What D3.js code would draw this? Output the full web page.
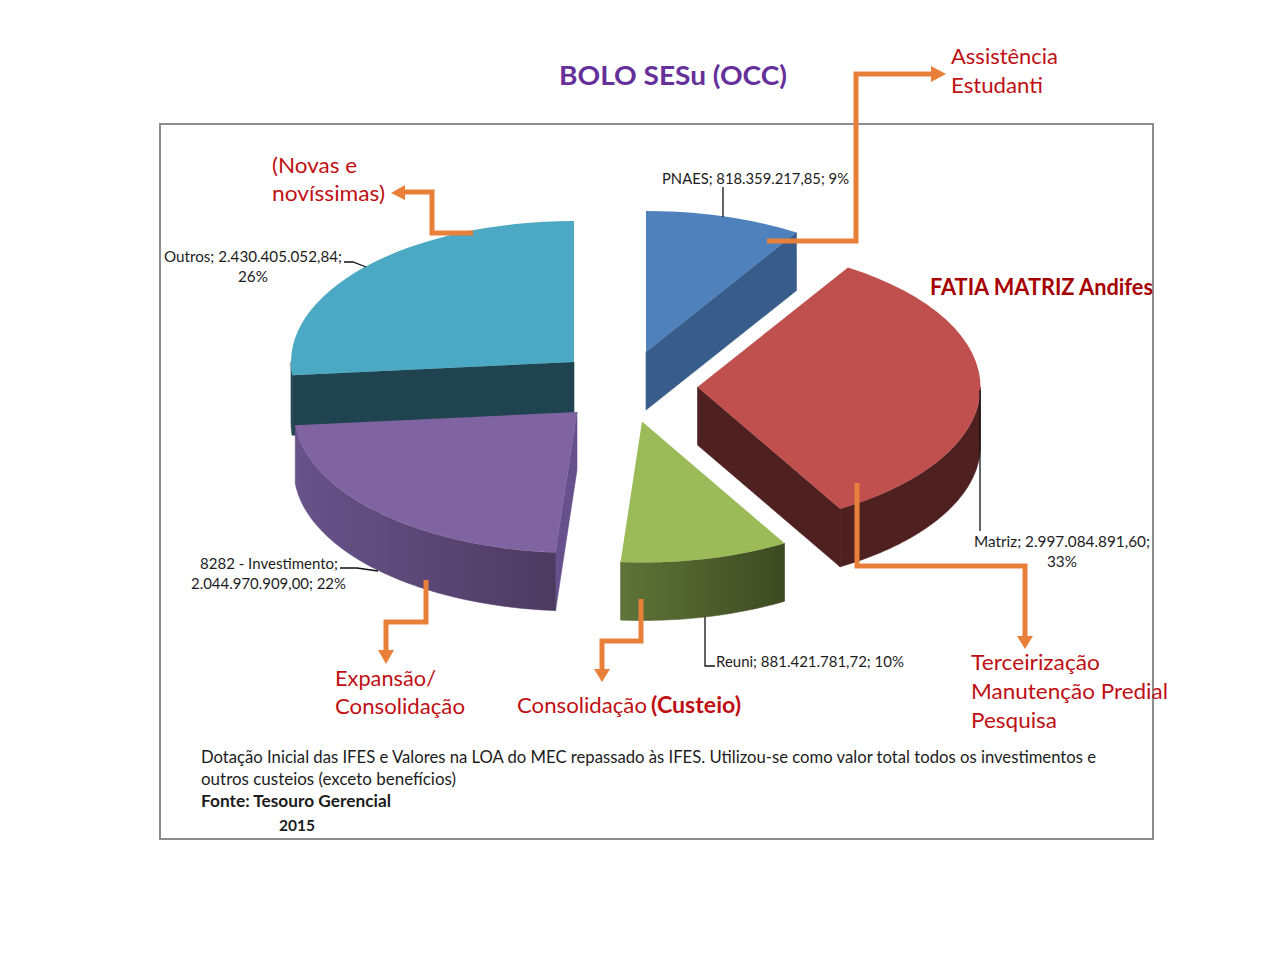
<!DOCTYPE html>
<html lang="pt">
<head>
<meta charset="utf-8">
<title>BOLO SESu (OCC)</title>
<script src="https://cdn.jsdelivr.net/npm/d3@7"></script>
<style>
html,body{margin:0;padding:0;background:#fff}
svg{display:block}
text{font-family:Lato,"Open Sans",sans-serif}
</style>
</head>
<body>
<svg id="chart" width="1280" height="960"></svg>
<script>
// ---------- data ----------
const categories = ["PNAES", "Matriz", "Reuni", "8282 - Investimento", "Outros"];
const seriesValues = [818359217.85, 2997084891.60, 881421781.72, 2044970909.00, 2430405052.84];

// ---------- style of each slice ----------
const topColors  = ["#4F81BD", "#BF504D", "#9BBB59", "#8064A2", "#4BA9C4"];
const wallStart  = ["#385D8A", "#4F2020", "#5F7438", "#68538A", "#1F444F"];
const wallEnd    = ["#385D8A", "#4F2020", "#3D4A21", "#4D3A60", "#1F444F"];
const faceColors = ["#385D8A", "#4F2020", null, "#67518C", "#1F444F"];
const faceEdge   = ["end", "end", null, "start", "start"];
// exploded apex of each slice, and extrusion depth
const apexX = [646, 697.5, 642, 577, 574];
const apexY = [352, 387, 421.5, 412, 362];
const depths = [58, 58, 58, 58, 60];
const rx = 283, ry = 141;

// ---------- annotations ----------
const leaderLines = [
  [[723,187],[723,217]],
  [[344,262],[353,262],[366,267]],
  [[705,617],[705,666],[715,666]],
  [[980,390],[980,531]],
  [[340,568],[357,568],[378,571]]
];
const arrowLines = [
  [[767,241],[856,241],[856,74],[932,74]],
  [[473,233],[432,233],[432,192],[405,192]],
  [[857,483],[857,566],[1025,566],[1025,637]],
  [[426,580],[426,622],[386,622],[386,650]],
  [[641,599],[641,641],[602,641],[602,670]]
];
const arrowHeads = [
  [[931,66],[946,74],[931,82]],
  [[405,185],[391,193],[405,200]],
  [[1017,636],[1025,649],[1033,636]],
  [[378,650],[386,664],[394,650]],
  [[594,669],[602,682],[610,669]]
];
const RED = "#C00F14", DARKRED = "#A60000", INK = "#1c1c1c", PURPLE = "#66309A";
// text, x, baseline, size, weight, colour, width in px
const labels = [
  ["BOLO SESu (OCC)",559,85,27,700,PURPLE,228],
  ["Assistência",951,64,22,400,RED,107],
  ["Estudanti",951,93,22,400,RED,92],
  ["(Novas e",272,173,22,400,RED,85],
  ["novíssimas)",272,201,22,400,RED,113],
  ["FATIA MATRIZ Andifes",930,295,22,700,DARKRED,223],
  ["PNAES; 818.359.217,85; 9%",662,184,15,400,INK,187],
  ["Outros; 2.430.405.052,84;",164,262,15,400,INK,178],
  ["26%",238,282,15,400,INK,30],
  ["Matriz; 2.997.084.891,60;",974,547,15,400,INK,176],
  ["33%",1047,567,15,400,INK,30],
  ["Reuni; 881.421.781,72; 10%",716,667,15,400,INK,188],
  ["8282 - Investimento;",200,569,15,400,INK,138],
  ["2.044.970.909,00; 22%",191,589,15,400,INK,155],
  ["Expansão/",335,686,22,400,RED,101],
  ["Consolidação",335,714,22,400,RED,130],
  ["Consolidação",517,713,22,400,RED,130],
  ["(Custeio)",651,713,22,700,RED,90],
  ["Terceirização",971,670,22,400,RED,129],
  ["Manutenção Predial",971,699,22,400,RED,197],
  ["Pesquisa",971,728,22,400,RED,86],
  ["Dotação Inicial das IFES e Valores na LOA do MEC repassado às IFES. Utilizou-se como valor total todos os investimentos e",201,763,17,400,INK,895],
  ["outros custeios (exceto benefícios)",201,785,17,400,INK,255],
  ["Fonte: Tesouro Gerencial",201,807,17,700,INK,190],
  ["2015",279,831,16,700,INK,36]
];

// ---------- drawing ----------
const svg = d3.select("#chart");
const defs = svg.append("defs");
const pie = d3.pie().sort(null).startAngle(0).endAngle(2 * Math.PI);
const slices = pie(seriesValues);
const arc = d3.arc().innerRadius(0).outerRadius(rx);
const onRim = (a, i, dy = 0) => [
  apexX[i] + rx * Math.sin(a),
  apexY[i] - ry * Math.cos(a) + dy
];
const line = d3.line();
const poly = d3.line().curve(d3.curveLinearClosed);

svg.append("rect")
  .attr("x", 160).attr("y", 124).attr("width", 993).attr("height", 715)
  .attr("fill", "#fff").attr("stroke", "#8c8c8c").attr("stroke-width", 2);

// painter's order: back-left first
const order = [4, 3, 0, 1, 2];
const g = svg.append("g");
order.forEach(i => {
  const s = slices[i], d = depths[i];
  // flat cut face
  if (faceEdge[i]) {
    const a = faceEdge[i] === "end" ? s.endAngle : s.startAngle;
    g.append("path")
      .attr("d", poly([[apexX[i], apexY[i]], [apexX[i], apexY[i] + d], onRim(a, i, d), onRim(a, i)]))
      .attr("fill", faceColors[i]).attr("stroke", faceColors[i]).attr("stroke-width", 0.6);
  }
  // outer wall: the part of the rim that faces the viewer
  const a0 = Math.max(s.startAngle, Math.PI / 2);
  const a1 = Math.min(s.endAngle, 3 * Math.PI / 2);
  if (a1 > a0) {
    const id = "wall" + i;
    const grad = defs.append("linearGradient").attr("id", id).attr("x1", 0).attr("x2", 1).attr("y1", 0).attr("y2", 0);
    grad.append("stop").attr("offset", 0).attr("stop-color", wallStart[i]);
    grad.append("stop").attr("offset", 1).attr("stop-color", wallEnd[i]);
    const ang = d3.range(0, 61).map(k => a0 + (a1 - a0) * k / 60);
    const pts = ang.map(a => onRim(a, i)).concat(ang.slice().reverse().map(a => onRim(a, i, d)));
    g.append("path").attr("d", poly(pts)).attr("fill", `url(#${id})`)
      .attr("stroke", `url(#${id})`).attr("stroke-width", 0.6);
  }
  // top surface
  g.append("path")
    .attr("transform", `translate(${apexX[i]},${apexY[i]}) scale(1,${ry / rx})`)
    .attr("d", arc(s))
    .attr("fill", topColors[i]);
});

// leader lines
svg.append("g").selectAll("path").data(leaderLines).join("path")
  .attr("d", line).attr("fill", "none").attr("stroke", "#111").attr("stroke-width", 1.3);

// orange arrows
const arrows = svg.append("g");
arrows.selectAll("path.shaft").data(arrowLines).join("path").attr("class", "shaft")
  .attr("d", line).attr("fill", "none").attr("stroke", "#E8803A").attr("stroke-width", 5)
  .attr("stroke-linejoin", "miter");
arrows.selectAll("path.head").data(arrowHeads).join("path").attr("class", "head")
  .attr("d", poly).attr("fill", "#E8803A");

// text
svg.append("g").selectAll("text").data(labels).join("text")
  .attr("x", d => d[1]).attr("y", d => d[2])
  .attr("font-size", d => d[3]).attr("font-weight", d => d[4]).attr("fill", d => d[5])
  .attr("textLength", d => d[6]).attr("lengthAdjust", "spacingAndGlyphs")
  .text(d => d[0]);
</script>
</body>
</html>
